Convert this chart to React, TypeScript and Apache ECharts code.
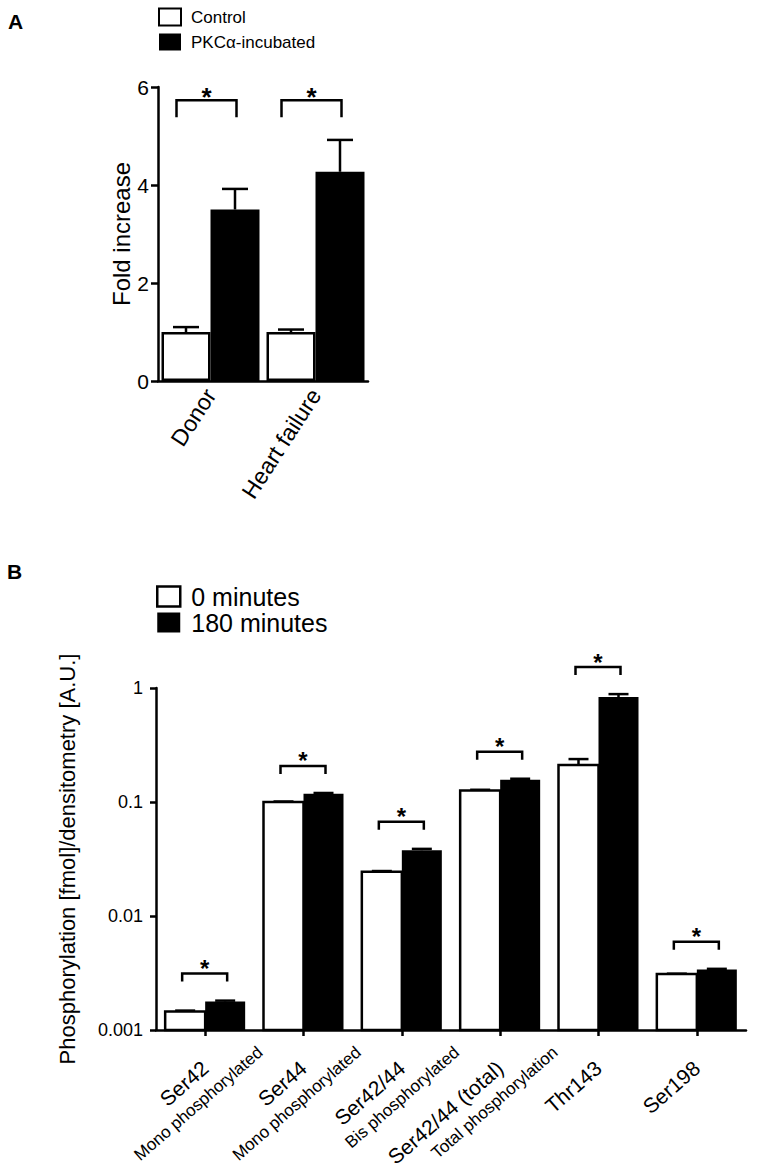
import React, { useEffect, useRef } from 'react';
import * as echarts from 'echarts';

// ---------- Panel A data ----------
const categoriesA = ['Donor', 'Heart failure'];
const controlA = [1.0, 1.0];
const controlErrA = [0.1, 0.05];
const pkcA = [3.5, 4.27];
const pkcErrA = [0.42, 0.65];
const bracketLevelA = [5.73, 5.73];
const yTicksA = [0, 2, 4, 6];

// ---------- Panel B data ----------
const categoriesB = ['Ser42', 'Ser44', 'Ser42/44', 'Ser42/44 (total)', 'Thr143', 'Ser198'];
const subLabelsB = ['Mono phosphorylated', 'Mono phosphorylated', 'Bis phosphorylated', 'Total phosphorylation', '', ''];
const min0 = [0.00145, 0.1, 0.0245, 0.126, 0.211, 0.0031];
const err0 = [0.00003, 0.001, 0.0003, 0.002, 0.027, 0.00002];
const min180 = [0.00178, 0.118, 0.0378, 0.157, 0.834, 0.0034];
const err180 = [0.00003, 0.002, 0.001, 0.003, 0.05, 0.00004];
const yTicksB = [0.001, 0.01, 0.1, 1];

const FONT = '"Liberation Sans", Arial, Helvetica, sans-serif';
const LW = 2.5;

function errorBars(name: string, axis: number, values: number[], errs: number[], side: number, barW: number, capW: number) {
  return {
    type: 'custom',
    name,
    xAxisIndex: axis,
    yAxisIndex: axis,
    silent: true,
    z: 5,
    data: values.map((v, i) => [i, v, v + errs[i]]),
    renderItem: (_p: any, api: any) => {
      const c = api.value(0);
      const p0 = api.coord([c, api.value(1)]);
      const p1 = api.coord([c, api.value(2)]);
      const x = p0[0] + (side * barW) / 2;
      return {
        type: 'group',
        children: [
          { type: 'line', shape: { x1: x, y1: p0[1], x2: x, y2: p1[1] }, style: { stroke: '#000', lineWidth: LW } },
          { type: 'line', shape: { x1: x - capW / 2, y1: p1[1], x2: x + capW / 2, y2: p1[1] }, style: { stroke: '#000', lineWidth: LW } },
        ],
      };
    },
  };
}

function logBars(name: string, values: number[], side: number, barW: number, fill: string, border: number) {
  return {
    type: 'custom',
    name,
    xAxisIndex: 1,
    yAxisIndex: 1,
    z: 3,
    itemStyle: { color: fill, borderColor: '#000', borderWidth: border },
    data: values.map((v, i) => [i, v]),
    renderItem: (_p: any, api: any) => {
      const c = api.value(0);
      const top = api.coord([c, api.value(1)]);
      const base = api.coord([c, yTicksB[0]]);
      const x = side < 0 ? top[0] - barW : top[0];
      return {
        type: 'rect',
        shape: { x, y: top[1], width: barW, height: base[1] - top[1] },
        style: { fill, stroke: border > 0 ? '#000' : 'none', lineWidth: border },
      };
    },
  };
}

function brackets(name: string, axis: number, levels: number[], lift: number, left: number, right: number, drop: number, starSize: number, starLift: number) {
  return {
    type: 'custom',
    name,
    xAxisIndex: axis,
    yAxisIndex: axis,
    silent: true,
    z: 6,
    data: levels.map((v, i) => [i, v]),
    renderItem: (_p: any, api: any) => {
      const p = api.coord([api.value(0), api.value(1)]);
      const y = p[1] - lift;
      const x1 = p[0] + left;
      const x2 = p[0] + right;
      return {
        type: 'group',
        children: [
          {
            type: 'polyline',
            shape: { points: [[x1, y + drop], [x1, y], [x2, y], [x2, y + drop]] },
            style: { stroke: '#000', lineWidth: LW, fill: 'none' },
          },
          {
            type: 'text',
            x: (x1 + x2) / 2,
            y: y - starLift,
            style: { text: '*', fontSize: starSize, fontFamily: FONT, fontWeight: 'bold', fill: '#000', align: 'center', verticalAlign: 'middle' },
          },
        ],
      };
    },
  };
}

export default function App() {
  const ref = useRef<HTMLDivElement>(null);

  useEffect(() => {
    if (!ref.current) return;
    const chart = echarts.init(ref.current, undefined, { renderer: 'svg' });
    const axisLine = { show: true, lineStyle: { color: '#000', width: LW } };
    const levelsB = min180.map((v, i) => v + err180[i]);

    chart.setOption({
      animation: false,
      backgroundColor: '#fff',
      title: [
        { text: 'A', left: 8, top: 11, padding: 0, textStyle: { fontSize: 21, fontWeight: 'bold', fontFamily: FONT, color: '#000' } },
        { text: 'B', left: 7, top: 561, padding: 0, textStyle: { fontSize: 21, fontWeight: 'bold', fontFamily: FONT, color: '#000' } },
      ],
      legend: [
        {
          data: ['Control', 'PKCα-incubated'],
          orient: 'vertical',
          left: 158,
          top: 7,
          padding: 0,
          itemWidth: 22,
          itemHeight: 17,
          itemGap: 5,
          icon: 'rect',
          selectedMode: false,
          textStyle: { fontSize: 17, fontFamily: FONT, color: '#000', lineHeight: 20, padding: [0, 0, 0, 5] },
        },
        {
          data: [
            { name: '0 minutes', itemStyle: { color: '#fff', borderColor: '#000', borderWidth: LW } },
            { name: '180 minutes', itemStyle: { color: '#000', borderColor: '#000', borderWidth: 0 } },
          ],
          orient: 'vertical',
          left: 156,
          top: 584,
          padding: 0,
          itemWidth: 23,
          itemHeight: 20,
          itemGap: 1,
          icon: 'rect',
          selectedMode: false,
          textStyle: { fontSize: 25, fontFamily: FONT, color: '#000', lineHeight: 25, padding: [0, 0, 0, 6] },
        },
      ],
      grid: [
        { left: 158, top: 87, width: 210, height: 294, outerBoundsMode: 'none', containLabel: false },
        { left: 156, top: 688, width: 590, height: 342, outerBoundsMode: 'none', containLabel: false },
      ],
      xAxis: [
        {
          type: 'category',
          gridIndex: 0,
          data: categoriesA,
          axisLine,
          axisTick: { show: false },
          axisLabel: { rotate: 57, fontSize: 23, fontFamily: FONT, color: '#000', align: 'right', verticalAlign: 'middle', margin: 10 },
        },
        {
          type: 'category',
          gridIndex: 1,
          data: categoriesB,
          axisLine,
          axisTick: { show: true, alignWithLabel: true, length: 6, lineStyle: { color: '#000', width: LW } },
          axisLabel: { rotate: 41, fontSize: 21, fontFamily: FONT, color: '#000', align: 'right', verticalAlign: 'middle', margin: 35 },
        },
      ],
      yAxis: [
        {
          type: 'value',
          gridIndex: 0,
          min: yTicksA[0],
          max: yTicksA[yTicksA.length - 1],
          interval: 2,
          name: 'Fold increase',
          nameLocation: 'middle',
          nameGap: 19,
          nameTextStyle: { fontSize: 24, fontFamily: FONT, color: '#000' },
          axisLine,
          axisTick: { show: true, length: 7, lineStyle: { color: '#000', width: LW } },
          axisLabel: { fontSize: 21, fontFamily: FONT, color: '#000', margin: 9 },
          splitLine: { show: false },
        },
        {
          type: 'log',
          gridIndex: 1,
          logBase: 10,
          min: yTicksB[0],
          max: yTicksB[yTicksB.length - 1],
          name: 'Phosphorylation [fmol]/densitometry [A.U.]',
          nameLocation: 'middle',
          nameGap: 78,
          nameTextStyle: { fontSize: 22, fontFamily: FONT, color: '#000' },
          axisLine,
          axisTick: { show: true, length: 6, lineStyle: { color: '#000', width: LW } },
          minorTick: { show: false },
          axisLabel: {
            fontSize: 18,
            fontFamily: FONT,
            color: '#000',
            margin: 13,
            formatter: (v: number) => String(parseFloat(Number(v).toPrecision(3))),
          },
          splitLine: { show: false },
        },
      ],
      series: [
        {
          type: 'bar',
          name: 'Control',
          xAxisIndex: 0,
          yAxisIndex: 0,
          data: controlA,
          barWidth: 49,
          barGap: '0%',
          itemStyle: { color: '#fff', borderColor: '#000', borderWidth: LW },
        },
        {
          type: 'bar',
          name: 'PKCα-incubated',
          xAxisIndex: 0,
          yAxisIndex: 0,
          data: pkcA,
          barWidth: 49,
          barGap: '0%',
          itemStyle: { color: '#000', borderColor: '#000', borderWidth: 0 },
        },
        errorBars('errA0', 0, controlA, controlErrA, -1, 49, 26),
        errorBars('errA1', 0, pkcA, pkcErrA, 1, 49, 26),
        brackets('sigA', 0, bracketLevelA, 0, -34, 26, 17, 26, 3),
        logBars('0 minutes', min0, -1, 40, '#fff', LW),
        logBars('180 minutes', min180, 1, 40, '#000', 0),
        errorBars('errB0', 1, min0, err0, -1, 40, 20),
        errorBars('errB1', 1, min180, err180, 1, 40, 20),
        brackets('sigB', 1, levelsB, 27, -23, 22, 8, 24, 5),
      ],
    });

    const subs: any[] = [];
    subLabelsB.forEach((t, i) => {
      if (!t) return;
      const p = chart.convertToPixel({ xAxisIndex: 1, yAxisIndex: 1 } as any, [categoriesB[i], yTicksB[0]]) as number[];
      subs.push({
        type: 'text',
        x: p[0] + 55,
        y: p[1] + 20,
        rotation: (41 * Math.PI) / 180,
        style: { text: t, fontSize: 17, fontFamily: FONT, fill: '#000', align: 'right', verticalAlign: 'middle' },
      });
    });
    chart.setOption({ graphic: subs });

    return () => chart.dispose();
  }, []);

  return <div ref={ref} style={{ position: 'absolute', left: 0, top: 0, width: 757, height: 1170 }} />;
}
